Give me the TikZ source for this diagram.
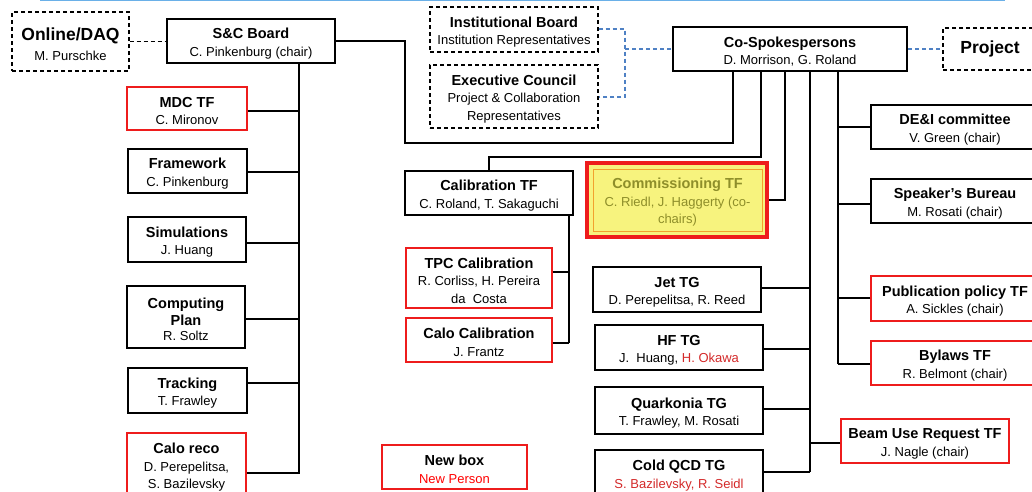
\documentclass[tikz,border=0pt]{standalone}
\usepackage{fontspec}
\setmainfont{Liberation Sans}
\definecolor{myred}{HTML}{EE1C1C}
\definecolor{txtred}{HTML}{D42A2A}
\definecolor{bluedash}{HTML}{4F81C4}
\definecolor{topblue}{HTML}{6AB0E8}
\definecolor{commfill}{HTML}{F7F37E}
\definecolor{commline}{HTML}{F2A12E}
\definecolor{commtext}{HTML}{8E8E2A}
\newcommand{\boxttl}[1]{{\fontsize{14.5}{17}\selectfont\bfseries\rule{0pt}{15.5pt}#1}}
\newcommand{\boxttlb}[1]{{\fontsize{14.5}{17}\selectfont\bfseries #1}}
\tikzset{
  box/.style={draw=black, line width=1.4pt, rectangle, inner sep=0pt, align=center,
    font=\fontsize{13}{17.5}\selectfont, text=black},
  rbox/.style={box, draw=myred, line width=1.1pt},
  dbox/.style={box, line width=1.3pt, dash pattern=on 4pt off 3pt},
  conn/.style={draw=black, line width=1.3pt},
  bconn/.style={draw=bluedash, line width=1.3pt, dash pattern=on 4pt off 3pt},
}
\begin{document}
\begin{tikzpicture}[x=1pt, y=-1pt]
\useasboundingbox (0,0) rectangle (1032,491);
\clip (0,0) rectangle (1032,491);
\fill[white] (0,0) rectangle (1032,491);
\draw[topblue, line width=1.5pt] (40,0.5) -- (1005,0.5);

% left column
\node[dbox, minimum width=117pt, minimum height=59pt] (online) at (70.5,41.5)
  {{\fontsize{17.5}{20}\selectfont\bfseries\rule{0pt}{18pt}Online/DAQ}\\[3pt]M. Purschke};
\node[box, minimum width=168pt, minimum height=44pt] (sc) at (251,41)
  {\boxttl{S\&C Board}\\C. Pinkenburg (chair)};
\node[rbox, minimum width=120pt, minimum height=43pt] (mdc) at (187,108.5)
  {\boxttl{MDC TF}\\C. Mironov};
\node[box, minimum width=119pt, minimum height=44pt] (fw) at (187.5,171)
  {\boxttl{Framework}\\C. Pinkenburg};
\node[box, minimum width=118pt, minimum height=45pt] (sim) at (187,239.5)
  {\boxttl{Simulations}\\J. Huang};
\node[box, minimum width=118pt, minimum height=62pt] (comp) at (186,317)
  {\boxttl{Computing}\\\boxttlb{Plan}\\[-2.5pt]R. Soltz};
\node[box, minimum width=119pt, minimum height=45pt] (track) at (187.5,390.5)
  {\boxttl{Tracking}\\T. Frawley};
\node[rbox, minimum width=119pt, minimum height=64pt] (caloreco) at (186.5,465)
  {\boxttl{Calo reco}\\D. Perepelitsa,\\S. Bazilevsky};

% boards
\node[dbox, minimum width=168pt, minimum height=45pt] (ib) at (514,29.5)
  {\boxttl{Institutional Board}\\Institution Representatives};
\node[dbox, minimum width=168pt, minimum height=63pt] (ec) at (514,96.5)
  {\boxttl{Executive Council}\\Project \& Collaboration\\Representatives};
\node[box, line width=2.2pt, minimum width=234pt, minimum height=44pt] (cosp) at (790,49)
  {\boxttl{Co-Spokespersons}\\D. Morrison, G. Roland};
\node[dbox, minimum width=94pt, minimum height=42pt] (project) at (990,49)
  {\fontsize{17.5}{20}\selectfont\bfseries Project};

% right column
\node[box, minimum width=168pt, minimum height=44pt] (dei) at (955,127)
  {\boxttl{DE\&I committee}\\V. Green (chair)};
\node[box, minimum width=168pt, minimum height=44pt] (speaker) at (955,201)
  {\boxttl{Speaker’s Bureau}\\M. Rosati (chair)};
\node[rbox, minimum width=168pt, minimum height=45pt] (pub) at (955,298.5)
  {\boxttl{Publication policy TF}\\A. Sickles (chair)};
\node[rbox, minimum width=168pt, minimum height=44pt] (bylaws) at (955,363)
  {\boxttl{Bylaws TF}\\R. Belmont (chair)};
\node[rbox, minimum width=168pt, minimum height=44pt] (beam) at (925,441)
  {\boxttl{Beam Use Request TF}\\J. Nagle (chair)};

% topical groups
\node[box, minimum width=168pt, minimum height=45pt] (jet) at (677,289.5)
  {\boxttl{Jet TG}\\D. Perepelitsa, R. Reed};
\node[box, minimum width=168pt, minimum height=45pt] (hf) at (679,347.5)
  {\boxttl{HF TG}\\J.\ \ Huang, \textcolor{txtred}{H. Okawa}};
\node[box, minimum width=168pt, minimum height=47pt] (quark) at (679,410.5)
  {\boxttl{Quarkonia TG}\\T. Frawley, M. Rosati};
\node[box, minimum width=168pt, minimum height=46pt] (cold) at (679,473)
  {\boxttl{Cold QCD TG}\\\textcolor{txtred}{S. Bazilevsky, R. Seidl}};

% calibration
\node[box, minimum width=168pt, minimum height=44pt] (calib) at (489,193)
  {\boxttl{Calibration TF}\\C. Roland, T. Sakaguchi};
\node[rbox, minimum width=146pt, minimum height=60pt] (tpc) at (479,278)
  {\boxttl{TPC Calibration}\\R. Corliss, H. Pereira\\da\ \ Costa};
\node[rbox, minimum width=146pt, minimum height=44pt] (calocal) at (479,340)
  {\boxttl{Calo Calibration}\\J. Frantz};

% commissioning
\node[draw=myred, line width=4pt, fill=commfill, rectangle, inner sep=0pt,
  minimum width=180pt, minimum height=74pt] (comm) at (677,200) {};
\node[draw=commline, line width=0.9pt, rectangle, inner sep=0pt, align=center,
  minimum width=169pt, minimum height=62pt, text=commtext,
  font=\fontsize{13}{17.5}\selectfont] (commin) at (677.5,200)
  {\boxttl{Commissioning TF}\\C. Riedl, J. Haggerty (co-\\chairs)};

% new box
\node[rbox, minimum width=145pt, minimum height=44pt] (newbox) at (454.5,467)
  {\boxttl{New box}\\\textcolor{red}{New Person}};

% connectors: left
\draw[conn, dash pattern=on 4pt off 3pt] (online.east) -- (sc.west |- online.east);
\coordinate (sct) at (299,63);
\draw[conn] (sct) -- (299,473);
\draw[conn] ([yshift=-2.5pt]mdc.east) -- ++(52,0);
\draw[conn] ([yshift=-1pt]fw.east) -- ++(52,0);
\draw[conn] ([yshift=-3.5pt]sim.east) -- ++(53,0);
\draw[conn] ([yshift=-2pt]comp.east) -- ++(54,0);
\draw[conn] ([yshift=7.5pt]track.east) -- ++(52,0);
\draw[conn] ([yshift=-8pt]caloreco.east) -- ++(53,0);

% S&C to co-spokespersons
\draw[conn] (sc.east) -- (405,41) -- (405,143) -- (733,143) -- (733,71);
\draw[conn] (calib.north) -- (489,157) -- (761,157) -- (761,71);
\draw[conn] (comm.east) -- (785,200) -- (785,71);

% calibration subtree
\draw[conn] (569,215) -- (569,343);
\draw[conn] ([yshift=6pt]tpc.east) -- (569,272);
\draw[conn] ([yshift=-3pt]calocal.east) -- (569,343);

% topical group trunk
\draw[conn] (810,71) -- (810,472);
\draw[conn] ([yshift=1.5pt]jet.east) -- (810,288);
\draw[conn] ([yshift=-1.5pt]hf.east) -- (810,349);
\draw[conn] ([yshift=1.5pt]quark.east) -- (810,409);
\draw[conn] ([yshift=1pt]cold.east) -- (810,472);
\draw[conn] ([yshift=-2pt]beam.west) -- (810,443);

% committees trunk
\draw[conn] (838,71) -- (838,364);
\draw[conn] (dei.west) -- (838,127);
\draw[conn] ([yshift=-3pt]speaker.west) -- (838,204);
\draw[conn] ([yshift=0.5pt]pub.west) -- (838,298);
\draw[conn] ([yshift=-1pt]bylaws.west) -- (838,364);

% blue dashed
\draw[bconn] ([yshift=0.5pt]ib.east) -- (625,29) -- (625,97) -- ([yshift=-0.5pt]ec.east);
\draw[bconn] (625,49) -- (cosp.west);
\draw[bconn] (cosp.east) -- (project.west);
\end{tikzpicture}
\end{document}
